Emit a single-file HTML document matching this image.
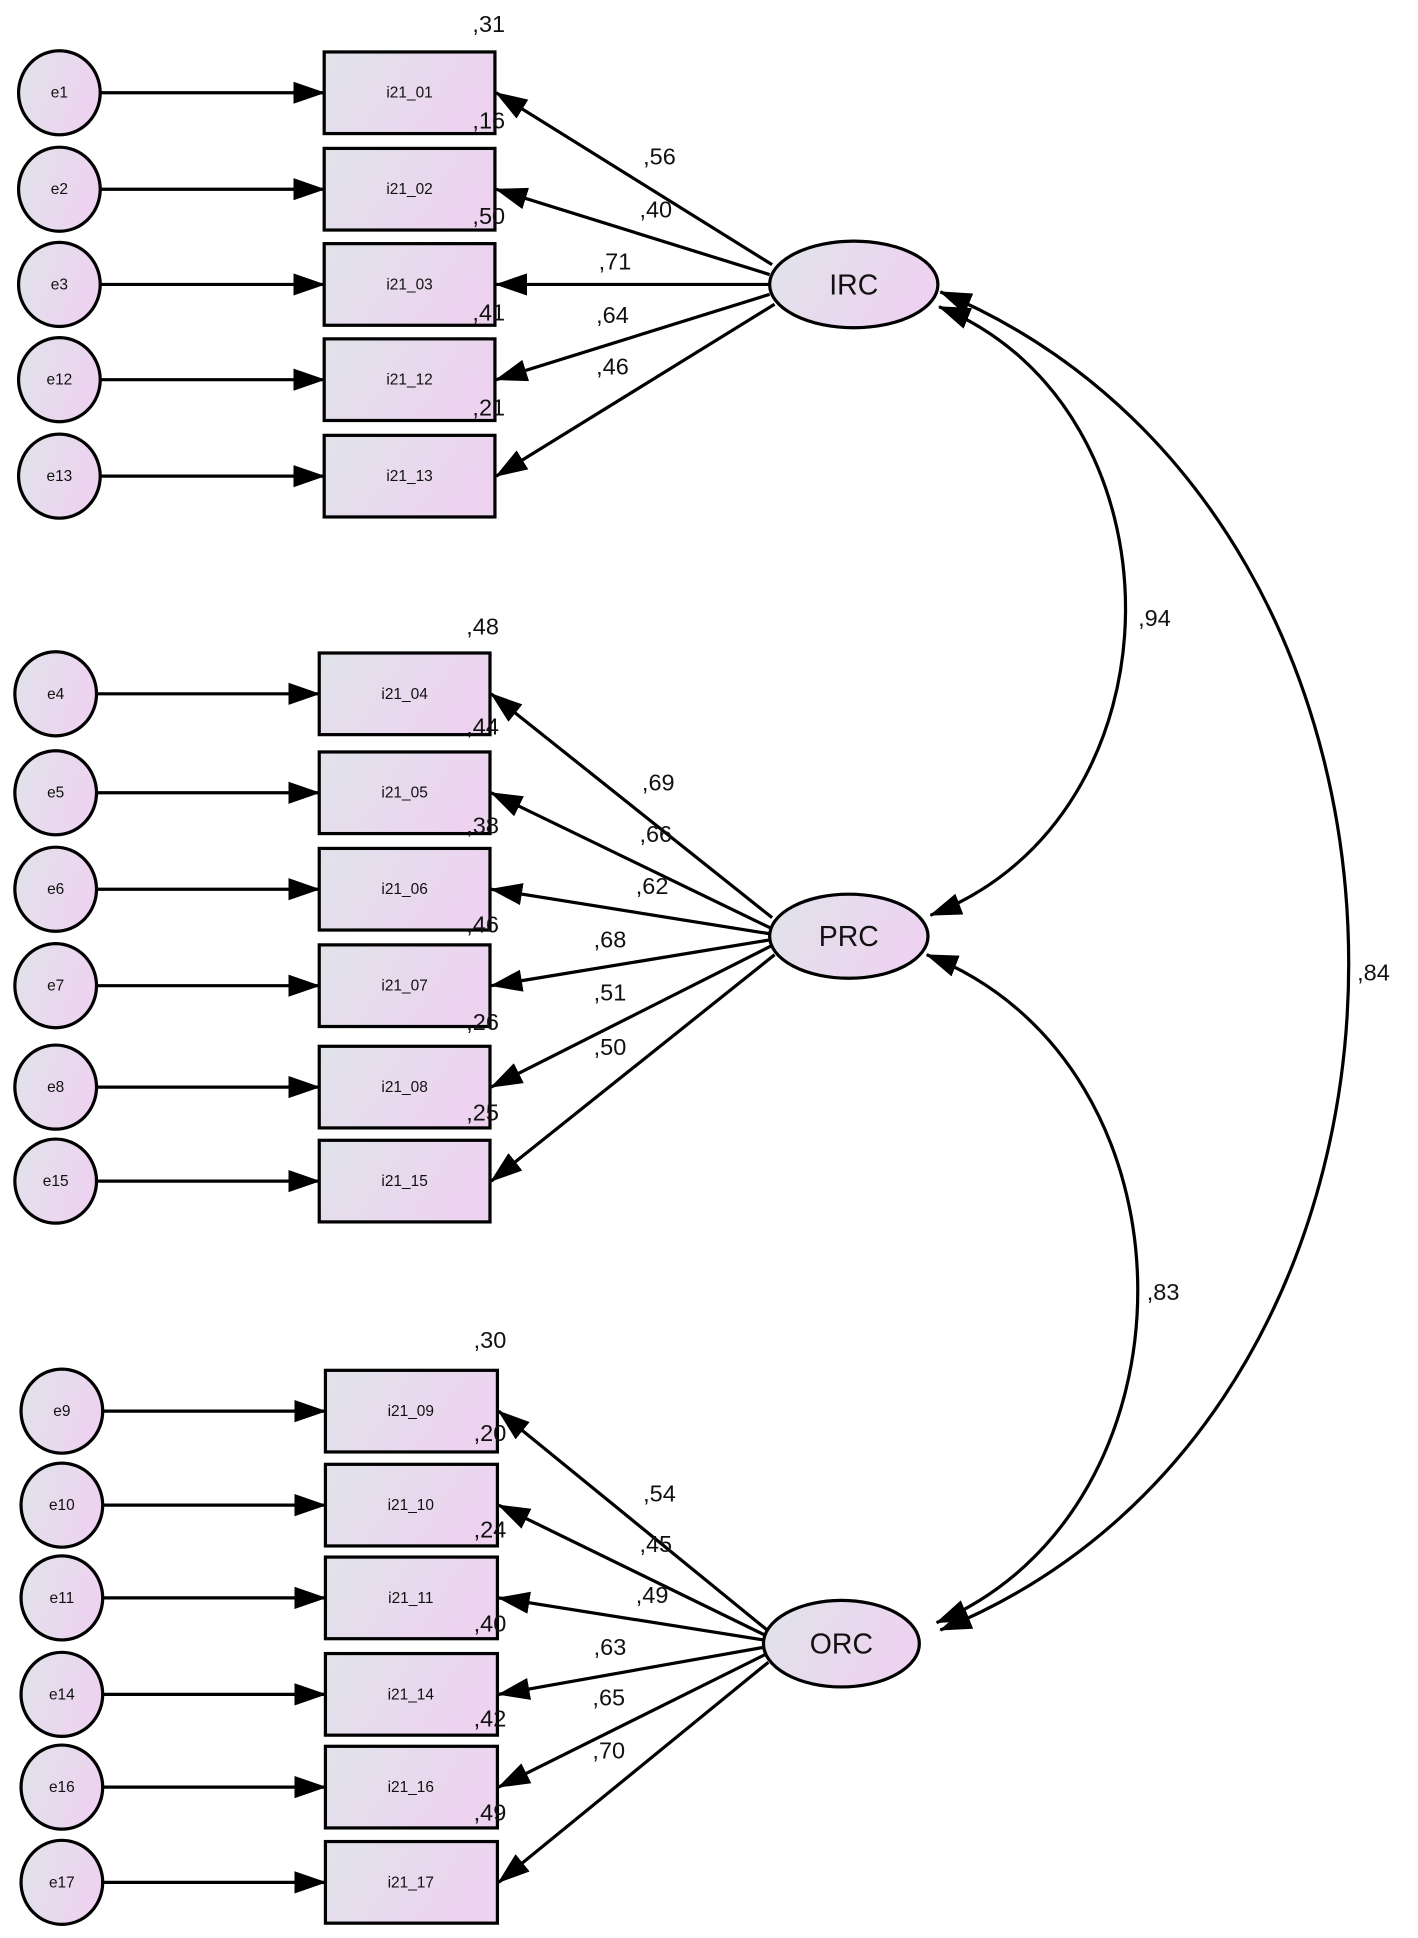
<!DOCTYPE html>
<html><head><meta charset="utf-8"><style>
html,body{margin:0;padding:0;background:#fff;}
svg{display:block;}
text{font-family:"Liberation Sans",Arial,sans-serif;fill:#111;}
.s{font-size:12.5px;}
.n{font-size:19px;}
.b{font-size:23px;}
</style></head><body>
<svg width="1418" height="1938" viewBox="0 0 1146 1567" preserveAspectRatio="none" xmlns="http://www.w3.org/2000/svg">
<defs>
<linearGradient id="g" x1="0" y1="0" x2="1" y2="0.3">
<stop offset="0" stop-color="#e0e3ea"/><stop offset="1" stop-color="#edd3f0"/>
</linearGradient>
<marker id="a" viewBox="0 0 26 18" refX="25" refY="9" markerWidth="26" markerHeight="18" markerUnits="userSpaceOnUse" orient="auto-start-reverse">
<path d="M0,0 L26,9 L0,18 Z" fill="#000"/>
</marker>
</defs>
<g stroke="#000" stroke-width="2.6" fill="url(#g)">
<ellipse cx="48" cy="75" rx="33" ry="34"/><ellipse cx="48" cy="153" rx="33" ry="34"/><ellipse cx="48" cy="230" rx="33" ry="34"/><ellipse cx="48" cy="307" rx="33" ry="34"/><ellipse cx="48" cy="385" rx="33" ry="34"/>
<rect x="262" y="42" width="138" height="66"/><rect x="262" y="120" width="138" height="66"/><rect x="262" y="197" width="138" height="66"/><rect x="262" y="274" width="138" height="66"/><rect x="262" y="352" width="138" height="66"/>
<ellipse cx="690" cy="230" rx="68" ry="35"/>
<ellipse cx="45" cy="561" rx="33" ry="34"/><ellipse cx="45" cy="641" rx="33" ry="34"/><ellipse cx="45" cy="719" rx="33" ry="34"/><ellipse cx="45" cy="797" rx="33" ry="34"/><ellipse cx="45" cy="879" rx="33" ry="34"/><ellipse cx="45" cy="955" rx="33" ry="34"/>
<rect x="258" y="528" width="138" height="66"/><rect x="258" y="608" width="138" height="66"/><rect x="258" y="686" width="138" height="66"/><rect x="258" y="764" width="138" height="66"/><rect x="258" y="846" width="138" height="66"/><rect x="258" y="922" width="138" height="66"/>
<ellipse cx="686" cy="757" rx="64" ry="34"/>
<ellipse cx="50" cy="1141" rx="33" ry="34"/><ellipse cx="50" cy="1217" rx="33" ry="34"/><ellipse cx="50" cy="1292" rx="33" ry="34"/><ellipse cx="50" cy="1370" rx="33" ry="34"/><ellipse cx="50" cy="1445" rx="33" ry="34"/><ellipse cx="50" cy="1522" rx="33" ry="34"/>
<rect x="263" y="1108" width="139" height="66"/><rect x="263" y="1184" width="139" height="66"/><rect x="263" y="1259" width="139" height="66"/><rect x="263" y="1337" width="139" height="66"/><rect x="263" y="1412" width="139" height="66"/><rect x="263" y="1489" width="139" height="66"/>
<ellipse cx="680" cy="1329" rx="63" ry="35"/>
</g>
<g stroke="#000" stroke-width="2.6" fill="none" marker-end="url(#a)">
<path d="M82,75H262"/><path d="M82,153H262"/><path d="M82,230H262"/><path d="M82,307H262"/><path d="M82,385H262"/>
<path d="M624,214L401,75"/><path d="M622,222L401,153"/><path d="M622,230L401,230"/><path d="M622,238L401,307"/><path d="M626,246L401,385"/>
<path d="M78,561H258"/><path d="M78,641H258"/><path d="M78,719H258"/><path d="M78,797H258"/><path d="M78,879H258"/><path d="M78,955H258"/>
<path d="M624,742L397,561"/><path d="M622,750L397,641"/><path d="M622,755L397,719"/><path d="M622,760L397,797"/><path d="M623,765L397,879"/><path d="M626,772L397,955"/>
<path d="M83,1141H263"/><path d="M83,1217H263"/><path d="M83,1292H263"/><path d="M83,1370H263"/><path d="M83,1445H263"/><path d="M83,1522H263"/>
<path d="M620,1318L403,1141"/><path d="M618,1322L403,1217"/><path d="M617,1326L403,1292"/><path d="M617,1332L403,1370"/><path d="M618,1338L403,1445"/><path d="M621,1344L403,1522"/>
<path d="M759,248C961,330 961,660 752,740" marker-start="url(#a)"/>
<path d="M749,772C975,860 975,1220 757,1312" marker-start="url(#a)"/>
<path d="M760,236C1200,420 1200,1140 760,1318" marker-start="url(#a)"/>
</g>
<g class="s" text-anchor="middle">
<text x="48" y="79">e1</text><text x="48" y="157">e2</text><text x="48" y="234">e3</text><text x="48" y="311">e12</text><text x="48" y="389">e13</text>
<text x="331" y="79">i21_01</text><text x="331" y="157">i21_02</text><text x="331" y="234">i21_03</text><text x="331" y="311">i21_12</text><text x="331" y="389">i21_13</text>
<text x="45" y="565">e4</text><text x="45" y="645">e5</text><text x="45" y="723">e6</text><text x="45" y="801">e7</text><text x="45" y="883">e8</text><text x="45" y="959">e15</text>
<text x="327" y="565">i21_04</text><text x="327" y="645">i21_05</text><text x="327" y="723">i21_06</text><text x="327" y="801">i21_07</text><text x="327" y="883">i21_08</text><text x="327" y="959">i21_15</text>
<text x="50" y="1145">e9</text><text x="50" y="1221">e10</text><text x="50" y="1296">e11</text><text x="50" y="1374">e14</text><text x="50" y="1449">e16</text><text x="50" y="1526">e17</text>
<text x="332" y="1145">i21_09</text><text x="332" y="1221">i21_10</text><text x="332" y="1296">i21_11</text><text x="332" y="1374">i21_14</text><text x="332" y="1449">i21_16</text><text x="332" y="1526">i21_17</text>
</g>
<g class="b" text-anchor="middle">
<text x="690" y="238">IRC</text><text x="686" y="765">PRC</text><text x="680" y="1337">ORC</text>
</g>
<g class="n" text-anchor="middle">
<text x="395" y="26">,31</text><text x="395" y="104">,16</text><text x="395" y="181">,50</text><text x="395" y="259">,41</text><text x="395" y="336">,21</text>
<text x="533" y="133">,56</text><text x="530" y="176">,40</text><text x="497" y="218">,71</text><text x="495" y="261">,64</text><text x="495" y="303">,46</text>
<text x="390" y="513">,48</text><text x="390" y="594">,44</text><text x="390" y="674">,38</text><text x="390" y="754">,46</text><text x="390" y="833">,26</text><text x="390" y="906">,25</text>
<text x="532" y="639">,69</text><text x="530" y="681">,66</text><text x="527" y="723">,62</text><text x="493" y="766">,68</text><text x="493" y="809">,51</text><text x="493" y="853">,50</text>
<text x="396" y="1090">,30</text><text x="396" y="1165">,20</text><text x="396" y="1243">,24</text><text x="396" y="1319">,40</text><text x="396" y="1396">,42</text><text x="396" y="1472">,49</text>
<text x="533" y="1214">,54</text><text x="530" y="1255">,45</text><text x="527" y="1296">,49</text><text x="493" y="1338">,63</text><text x="492" y="1379">,65</text><text x="492" y="1422">,70</text>
<text x="933" y="506">,94</text><text x="940" y="1051">,83</text><text x="1110" y="793">,84</text>
</g>
</svg>
</body></html>
